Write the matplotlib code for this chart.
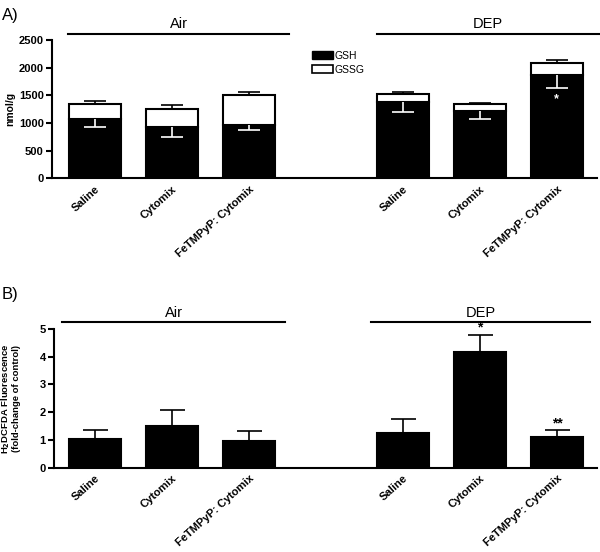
import numpy as np
import matplotlib
matplotlib.use("Agg")
import matplotlib.pyplot as plt
from matplotlib.patches import Patch

plt.rcParams["font.family"] = ["Liberation Sans", "DejaVu Sans"]

# Data
labels = ["Saline", "Cytomix", "FeTMPyP: Cytomix", "Saline", "Cytomix", "FeTMPyP: Cytomix"]
xpos = [0, 1, 2, 4, 5, 6]
gsh = [1078, 921, 969, 1379, 1210, 1860]
gsh_err = [151, 169, 90, 187, 132, 235]
gssg = [271, 331, 542, 138, 132, 229]
gssg_err = [54, 78, 42, 36, 18, 42]

dcf = [1.02, 1.49, 0.97, 1.25, 4.17, 1.11]
dcf_err = [0.33, 0.59, 0.35, 0.49, 0.61, 0.24]

groups = ["Air", "DEP"]

W = 0.675
XLIM = (-0.56, 6.52)


def style_axes(ax):
    ax.spines["top"].set_visible(False)
    ax.spines["right"].set_visible(False)
    ax.spines["left"].set_linewidth(1.5)
    ax.spines["bottom"].set_linewidth(1.5)
    ax.tick_params(axis="y", direction="out", length=4, width=1.5, labelsize=8, pad=2)
    ax.tick_params(axis="x", length=0, pad=4)
    for t in ax.get_yticklabels():
        t.set_fontweight("bold")
    ax.set_xlim(*XLIM)
    ax.set_xticks(xpos)
    ax.set_xticklabels(labels, rotation=42, ha="right", rotation_mode="anchor",
                       fontsize=8, fontweight="bold")


def one_sided(ax, x, y, err, up, color, cap):
    # error bar drawn on one side only, cap only at the far end
    lo = np.zeros(len(err)) if up else np.asarray(err)
    hi = np.asarray(err) if up else np.zeros(len(err))
    _, caps, _ = ax.errorbar(x, y, yerr=[lo, hi], fmt="none", ecolor=color,
                             elinewidth=1.2, capsize=cap, capthick=1.2,
                             zorder=3 if color == "white" else 1)
    caps[0 if up else 1].set_visible(False)


def group_lines(ax, y, ty, spans):
    for name, (x0, x1) in zip(groups, spans):
        ax.plot([x0, x1], [y, y], color="black", lw=1.5, clip_on=False)
        ax.text((x0 + x1) / 2, ty, name, ha="center", va="bottom", fontsize=10.5)


fig = plt.figure(figsize=(6.0, 5.52), dpi=100)

# ---- Panel A: GSH / GSSG stacked bars
axA = fig.add_axes([0.0867, 0.677, 0.908, 0.2505])
total = np.array(gsh) + np.array(gssg)
axA.bar(xpos, gsh, width=W, color="black", edgecolor="black", lw=1.5, zorder=2)
axA.bar(xpos, gssg, bottom=gsh, width=W, color="white", edgecolor="black", lw=1.5, zorder=2)
one_sided(axA, xpos, total, gssg_err, True, "black", 8)
one_sided(axA, xpos, gsh, gsh_err, False, "white", 8)
axA.text(6, gsh[5] - gsh_err[5] - 80, "*", color="white", ha="center", va="top",
         fontsize=9, fontweight="bold", zorder=4)
axA.set_ylim(0, 2500)
axA.set_yticks([0, 500, 1000, 1500, 2000, 2500])
axA.set_ylabel("nmol/g", fontsize=7.5, fontweight="bold")
axA.yaxis.set_label_coords(-0.068, 0.5)
style_axes(axA)
group_lines(axA, 2600, 2660, [(-0.35, 2.52), (3.66, 6.55)])
axA.legend(handles=[Patch(facecolor="black", edgecolor="black", label="GSH"),
                    Patch(facecolor="white", edgecolor="black", lw=1.2, label="GSSG")],
           loc="upper left", bbox_to_anchor=(0.47, 0.95), frameon=False,
           fontsize=7.5, handlelength=2.0, handleheight=0.8, handletextpad=0.1,
           labelspacing=0.35, borderaxespad=0)
fig.text(0.003, 0.985, "A)", fontsize=12, va="top")

# ---- Panel B: H2DCFDA fluorescence
axB = fig.add_axes([0.09, 0.1527, 0.905, 0.2513])
axB.bar(xpos, dcf, width=W, color="black", edgecolor="black", lw=1.5, zorder=2)
one_sided(axB, xpos, dcf, dcf_err, True, "black", 9)
axB.text(5, dcf[4] + dcf_err[4] + 0.02, "*", ha="center", va="bottom", fontsize=10,
         fontweight="bold")
axB.text(6, dcf[5] + dcf_err[5] - 0.02, "**", ha="center", va="bottom", fontsize=10,
         fontweight="bold")
axB.set_ylim(0, 5)
axB.set_yticks([0, 1, 2, 3, 4, 5])
axB.set_ylabel("H$_\\mathbf{2}$DCFDA Fluorescence\n(fold-change of control)",
               fontsize=6.8, fontweight="bold", linespacing=1.05)
axB.yaxis.set_label_coords(-0.06, 0.5)
style_axes(axB)
axB.set_xlim(XLIM[0] + 0.03, XLIM[1])
group_lines(axB, 5.26, 5.34, [(-0.42, 2.47), (3.58, 6.43)])
fig.text(0.003, 0.48, "B)", fontsize=12, va="top")

fig.savefig("out.png", dpi=100)
